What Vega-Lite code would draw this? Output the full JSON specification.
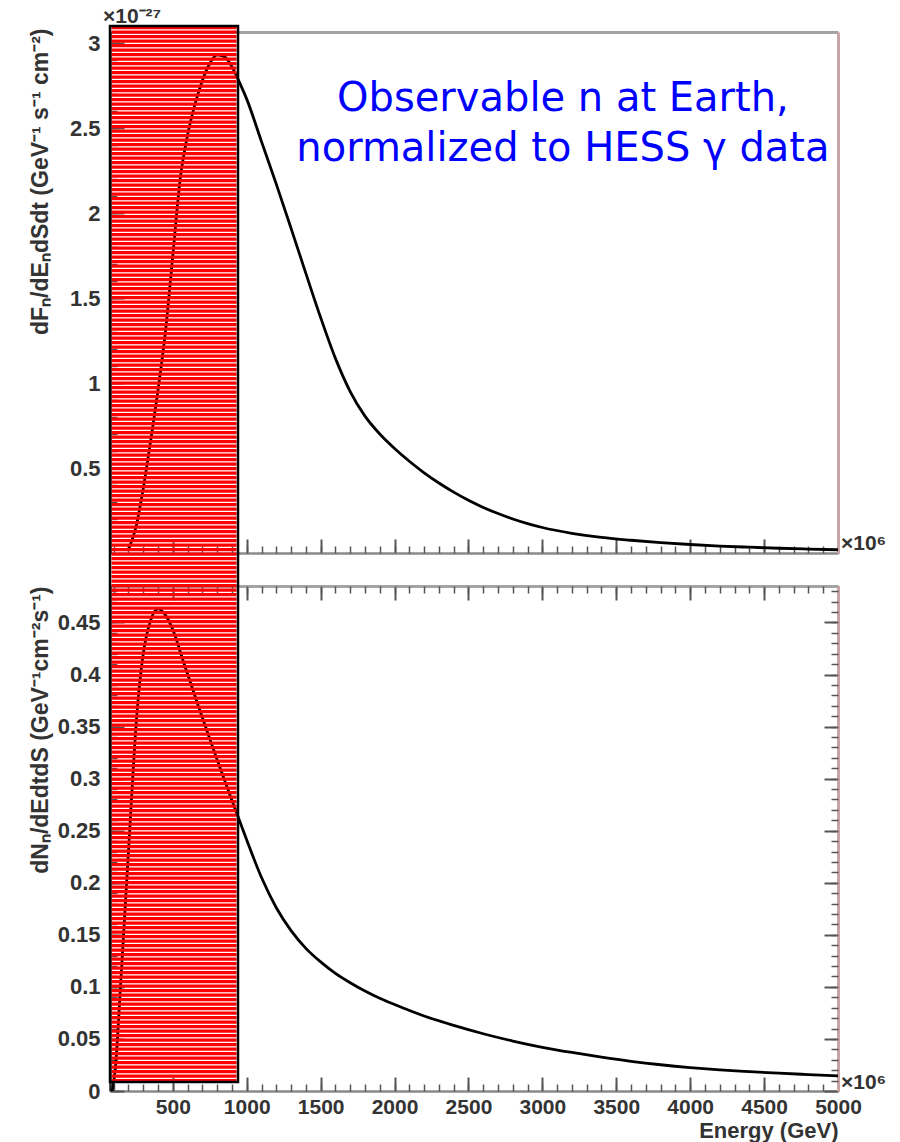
{
  "$schema": "https://vega.github.io/schema/vega-lite/v6.json",
  "background": "white",
  "padding": {"left": 28, "top": -37, "right": 5, "bottom": 5},
  "bounds": "flush",
  "spacing": 33,
  "datasets": {
    "top": [
      {"e":200,"f":0.02},{"e":250,"f":0.15},{"e":300,"f":0.38},{"e":350,"f":0.66},{"e":400,"f":0.96},{"e":450,"f":1.3},{"e":500,"f":1.75},{"e":550,"f":2.2},{"e":600,"f":2.46},{"e":650,"f":2.64},{"e":700,"f":2.78},{"e":750,"f":2.88},{"e":800,"f":2.93},{"e":850,"f":2.92},{"e":900,"f":2.86},{"e":950,"f":2.77},{"e":1000,"f":2.67},{"e":1100,"f":2.42},{"e":1200,"f":2.17},{"e":1300,"f":1.91},{"e":1400,"f":1.645},{"e":1500,"f":1.385},{"e":1600,"f":1.145},{"e":1700,"f":0.95},{"e":1800,"f":0.805},{"e":1900,"f":0.7},{"e":2000,"f":0.615},{"e":2100,"f":0.54},{"e":2200,"f":0.472},{"e":2300,"f":0.412},{"e":2400,"f":0.358},{"e":2500,"f":0.31},{"e":2600,"f":0.268},{"e":2700,"f":0.232},{"e":2800,"f":0.2},{"e":2900,"f":0.173},{"e":3000,"f":0.15},{"e":3200,"f":0.116},{"e":3400,"f":0.092},{"e":3600,"f":0.075},{"e":3800,"f":0.061},{"e":4000,"f":0.05},{"e":4200,"f":0.041},{"e":4400,"f":0.034},{"e":4600,"f":0.028},{"e":4800,"f":0.023},{"e":5000,"f":0.019}
    ],
    "bottom": [
      {"e":90,"f":0.0},{"e":110,"f":0.02},{"e":150,"f":0.11},{"e":200,"f":0.23},{"e":258,"f":0.364},{"e":300,"f":0.42},{"e":350,"f":0.452},{"e":400,"f":0.463},{"e":450,"f":0.457},{"e":500,"f":0.443},{"e":570,"f":0.413},{"e":684,"f":0.365},{"e":800,"f":0.318},{"e":900,"f":0.279},{"e":1000,"f":0.241},{"e":1100,"f":0.205},{"e":1200,"f":0.176},{"e":1300,"f":0.154},{"e":1400,"f":0.137},{"e":1500,"f":0.124},{"e":1600,"f":0.113},{"e":1700,"f":0.104},{"e":1800,"f":0.096},{"e":1900,"f":0.089},{"e":2000,"f":0.083},{"e":2200,"f":0.072},{"e":2400,"f":0.063},{"e":2600,"f":0.055},{"e":2800,"f":0.048},{"e":3000,"f":0.042},{"e":3200,"f":0.037},{"e":3400,"f":0.0325},{"e":3600,"f":0.0285},{"e":3800,"f":0.0252},{"e":4000,"f":0.0225},{"e":4200,"f":0.0203},{"e":4400,"f":0.0186},{"e":4600,"f":0.0171},{"e":4800,"f":0.0158},{"e":5000,"f":0.0146}
    ],
    "box": [{"e0":75,"e1":941,"v0":0.0086,"v1":1.0229}]
  },
  "vconcat": [
    {
      "width": 728,
      "height": 521,
      "resolve": {"axis": {"x": "independent", "y": "independent"}},
      "layer": [
        {
          "data": {"name": "top"},
          "mark": {"type": "line", "color": "black", "strokeWidth": 2.8, "interpolate": "monotone"},
          "encoding": {
            "x": {"field": "e", "type": "quantitative", "scale": {"domain": [75, 5000], "nice": false, "zero": false},
              "axis": {"orient": "bottom", "values": [500,1000,1500,2000,2500,3000,3500,4000,4500,5000], "tickSize": -14, "labels": false, "title": null}},
            "y": {"field": "f", "type": "quantitative", "scale": {"domain": [0, 3.065], "nice": false, "zero": false},
              "axis": {"orient": "left", "values": [0.5,1,1.5,2,2.5,3], "tickSize": -14, "labelPadding": 24, "format": "~g", "domainColor": "#222",
                "title": "dFₙ/dEₙdSdt (GeV⁻¹ s⁻¹ cm⁻²)", "titleX": -70, "titleY": -4, "titleAngle": -90, "titleAlign": "right", "titleBaseline": "middle"}}
          }
        },
        {
          "data": {"name": "top"},
          "mark": {"type": "line", "strokeOpacity": 0},
          "encoding": {
            "x": {"field": "e", "type": "quantitative",
              "axis": {"orient": "bottom", "values": [100,200,300,400,500,600,700,800,900,1000,1100,1200,1300,1400,1500,1600,1700,1800,1900,2000,2100,2200,2300,2400,2500,2600,2700,2800,2900,3000,3100,3200,3300,3400,3500,3600,3700,3800,3900,4000,4100,4200,4300,4400,4500,4600,4700,4800,4900,5000], "tickSize": -7, "tickWidth": 1.5, "labels": false, "domain": false, "title": null}},
            "y": {"field": "f", "type": "quantitative",
              "axis": {"orient": "left", "values": [0.1,0.2,0.3,0.4,0.5,0.6,0.7,0.8,0.9,1.0,1.1,1.2,1.3,1.4,1.5,1.6,1.7,1.8,1.9,2.0,2.1,2.2,2.3,2.4,2.5,2.6,2.7,2.8,2.9,3.0], "tickSize": -7, "tickWidth": 1.5, "labels": false, "domain": false, "title": null}}
          }
        },
        {
          "data": {"name": "top"},
          "mark": {"type": "line", "strokeOpacity": 0},
          "encoding": {
            "x": {"field": "e", "type": "quantitative",
              "axis": {"orient": "top", "ticks": false, "labels": false, "domainColor": "#a3a3a3", "domainWidth": 3, "title": null}},
            "y": {"field": "f", "type": "quantitative",
              "axis": {"orient": "right", "ticks": false, "labels": false, "domainColor": "#c7a5a5", "domainWidth": 3, "title": null}}
          }
        },
        {
          "data": {"values": [{}]},
          "mark": {"type": "text", "text": ["Observable n at Earth,", "normalized to HESS γ data"], "font": "DejaVu Sans", "fontSize": 40, "lineHeight": 50, "color": "#0000ff", "align": "center", "baseline": "middle"},
          "encoding": {
            "x": {"datum": 3139, "type": "quantitative", "axis": null},
            "y": {"datum": 2.67, "type": "quantitative", "axis": null}
          }
        },
        {
          "data": {"values": [{}]},
          "mark": {"type": "text", "text": "×10⁶", "font": "Liberation Sans", "fontWeight": "bold", "fontSize": 21, "color": "#333", "align": "left", "baseline": "middle", "dx": 3, "dy": -9},
          "encoding": {
            "x": {"datum": 5000, "type": "quantitative", "axis": null},
            "y": {"datum": 0, "type": "quantitative", "axis": null}
          }
        },
        {
          "data": {"values": [{}]},
          "mark": {"type": "text", "text": "×10⁻²⁷", "font": "Liberation Sans", "fontWeight": "bold", "fontSize": 21, "color": "#333", "align": "left", "baseline": "middle", "dx": -7, "dy": -15},
          "encoding": {
            "x": {"datum": 75, "type": "quantitative", "axis": null},
            "y": {"datum": 3.065, "type": "quantitative", "axis": null}
          }
        }
      ]
    },
    {
      "width": 728,
      "height": 505,
      "resolve": {"axis": {"x": "independent", "y": "independent"}},
      "layer": [
        {
          "data": {"name": "bottom"},
          "mark": {"type": "line", "color": "black", "strokeWidth": 2.8, "interpolate": "monotone"},
          "encoding": {
            "x": {"field": "e", "type": "quantitative", "scale": {"domain": [75, 5000], "nice": false, "zero": false},
              "axis": {"orient": "bottom", "values": [500,1000,1500,2000,2500,3000,3500,4000,4500,5000], "tickSize": -14, "labelPadding": 19, "labelFontSize": 21, "format": "d", "labelFlush": false, "labelOverlap": false,
                "title": "Energy (GeV)", "titleFontSize": 22, "titleX": 728, "titleY": 39, "titleAlign": "right", "titleBaseline": "middle"}},
            "y": {"field": "f", "type": "quantitative", "scale": {"domain": [0, 0.485], "nice": false, "zero": false},
              "axis": {"orient": "left", "values": [0,0.05,0.1,0.15,0.2,0.25,0.3,0.35,0.4,0.45], "tickSize": -14, "labelPadding": 24, "format": "~g", "domainColor": "#222", "labelOverlap": false,
                "title": "dNₙ/dEdtdS (GeV⁻¹cm⁻²s⁻¹)", "titleX": -70, "titleY": 0, "titleAngle": -90, "titleAlign": "right", "titleBaseline": "middle"}}
          }
        },
        {
          "data": {"name": "bottom"},
          "mark": {"type": "line", "strokeOpacity": 0},
          "encoding": {
            "x": {"field": "e", "type": "quantitative",
              "axis": {"orient": "bottom", "values": [100,200,300,400,500,600,700,800,900,1000,1100,1200,1300,1400,1500,1600,1700,1800,1900,2000,2100,2200,2300,2400,2500,2600,2700,2800,2900,3000,3100,3200,3300,3400,3500,3600,3700,3800,3900,4000,4100,4200,4300,4400,4500,4600,4700,4800,4900,5000], "tickSize": -7, "tickWidth": 1.5, "labels": false, "domain": false, "title": null}},
            "y": {"field": "f", "type": "quantitative",
              "axis": {"orient": "left", "values": [0.01,0.02,0.03,0.04,0.05,0.06,0.07,0.08,0.09,0.1,0.11,0.12,0.13,0.14,0.15,0.16,0.17,0.18,0.19,0.2,0.21,0.22,0.23,0.24,0.25,0.26,0.27,0.28,0.29,0.3,0.31,0.32,0.33,0.34,0.35,0.36,0.37,0.38,0.39,0.4,0.41,0.42,0.43,0.44,0.45,0.46,0.47,0.48], "tickSize": -7, "tickWidth": 1.5, "labels": false, "domain": false, "title": null}}
          }
        },
        {
          "data": {"name": "bottom"},
          "mark": {"type": "line", "strokeOpacity": 0},
          "encoding": {
            "x": {"field": "e", "type": "quantitative",
              "axis": {"orient": "top", "values": [500,1000,1500,2000,2500,3000,3500,4000,4500,5000], "tickSize": -14, "labels": false, "domainColor": "#a3a3a3", "domainWidth": 3, "title": null}},
            "y": {"field": "f", "type": "quantitative",
              "axis": {"orient": "right", "values": [0,0.05,0.1,0.15,0.2,0.25,0.3,0.35,0.4,0.45], "tickSize": -14, "labels": false, "domainColor": "#c7a5a5", "domainWidth": 3, "title": null}}
          }
        },
        {
          "data": {"name": "bottom"},
          "mark": {"type": "line", "strokeOpacity": 0},
          "encoding": {
            "x": {"field": "e", "type": "quantitative",
              "axis": {"orient": "top", "values": [100,200,300,400,500,600,700,800,900,1000,1100,1200,1300,1400,1500,1600,1700,1800,1900,2000,2100,2200,2300,2400,2500,2600,2700,2800,2900,3000,3100,3200,3300,3400,3500,3600,3700,3800,3900,4000,4100,4200,4300,4400,4500,4600,4700,4800,4900,5000], "tickSize": -7, "tickWidth": 1.5, "labels": false, "domain": false, "title": null}},
            "y": {"field": "f", "type": "quantitative",
              "axis": {"orient": "right", "values": [0.01,0.02,0.03,0.04,0.05,0.06,0.07,0.08,0.09,0.1,0.11,0.12,0.13,0.14,0.15,0.16,0.17,0.18,0.19,0.2,0.21,0.22,0.23,0.24,0.25,0.26,0.27,0.28,0.29,0.3,0.31,0.32,0.33,0.34,0.35,0.36,0.37,0.38,0.39,0.4,0.41,0.42,0.43,0.44,0.45,0.46,0.47,0.48], "tickSize": -7, "tickWidth": 1.5, "labels": false, "domain": false, "title": null}}
          }
        },
        {
          "data": {"values": [{}]},
          "mark": {"type": "text", "text": "×10⁶", "font": "Liberation Sans", "fontWeight": "bold", "fontSize": 21, "color": "#333", "align": "left", "baseline": "middle", "dx": 3, "dy": -8},
          "encoding": {
            "x": {"datum": 5000, "type": "quantitative", "axis": null},
            "y": {"datum": 0, "type": "quantitative", "axis": null}
          }
        },
        {
          "data": {"values": [{}]},
          "mark": {"type": "rule", "color": "#ff0000", "strokeWidth": 125, "strokeDash": [3.4, 1.1], "strokeCap": "butt"},
          "encoding": {
            "x": {"datum": 508, "type": "quantitative", "axis": null},
            "y": {"datum": 1.0229, "type": "quantitative", "axis": null},
            "y2": {"datum": 0.0086}
          }
        },
        {
          "data": {"name": "box"},
          "mark": {"type": "rect", "filled": false, "color": "black", "strokeWidth": 2.5},
          "encoding": {
            "x": {"field": "e0", "type": "quantitative", "axis": null},
            "x2": {"field": "e1"},
            "y": {"field": "v0", "type": "quantitative", "axis": null},
            "y2": {"field": "v1"}
          }
        }
      ]
    }
  ],
  "config": {
    "view": {"stroke": null},
    "axis": {
      "grid": false,
      "labelFont": "Liberation Sans", "labelFontWeight": "bold", "labelFontSize": 22, "labelColor": "#333",
      "titleFont": "Liberation Sans", "titleFontWeight": "bold", "titleFontSize": 23, "titleColor": "#333",
      "domainColor": "#8a8a8a", "domainWidth": 2.5, "tickColor": "#555", "tickWidth": 2
    }
  }
}
